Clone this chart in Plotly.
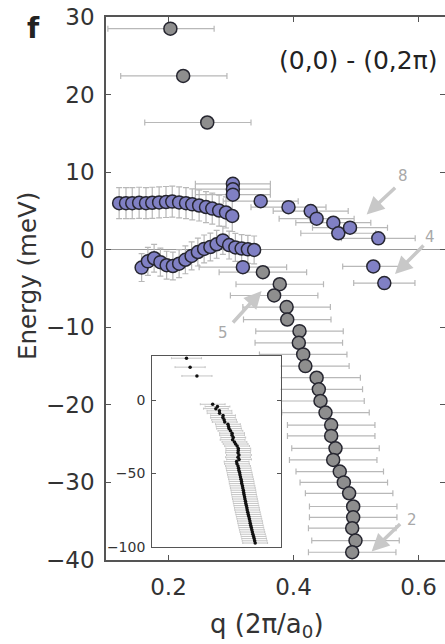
import plotly.graph_objects as go

# ---------------- data ----------------
# purple upper branch (vertical error bars)
q_up = [0.121, 0.132, 0.142, 0.153, 0.164, 0.174, 0.185, 0.196, 0.206,
        0.217, 0.228, 0.238, 0.249, 0.260, 0.270, 0.281, 0.292, 0.302]
e_up = [6.0, 6.0, 6.0, 6.05, 6.0, 6.05, 6.1, 6.15, 6.2,
        6.1, 6.0, 5.85, 5.7, 5.5, 5.3, 5.05, 4.8, 4.35]
de_up = [2.0] * len(q_up)

# purple lower branch (vertical error bars)
q_lo = [0.157, 0.167, 0.177, 0.187, 0.197, 0.207, 0.217, 0.227, 0.237, 0.247,
        0.257, 0.267, 0.277, 0.287, 0.297, 0.307, 0.317, 0.327, 0.337]
e_lo = [-2.3, -1.5, -1.1, -1.6, -2.0, -2.1, -1.8, -1.3, -0.8, -0.3,
        0.1, 0.35, 0.7, 1.2, 0.6, 0.3, 0.15, 0.05, -0.03]
de_lo = [1.8] * len(q_lo)

# purple stacked cluster near q~0.30 (horizontal error bars)
q_cl = [0.303, 0.303, 0.303]
e_cl = [8.5, 7.8, 7.1]
dq_cl = [0.06, 0.06, 0.06]

# purple scattered points (horizontal error bars)
q_pr = [0.319, 0.3475, 0.392, 0.4275, 0.437, 0.4637, 0.4717, 0.4904, 0.5357, 0.5277, 0.5453]
e_pr = [-2.25, 6.26, 5.49, 4.98, 4.0, 3.48, 2.12, 2.84, 1.47, -2.16, -4.3]
dq_pr = [0.07, 0.06, 0.06, 0.06, 0.06, 0.06, 0.06, 0.06, 0.059, 0.049, 0.049]

# gray high-energy points (asymmetric horizontal error bars)
q_top = [0.203, 0.2235, 0.262]
e_top = [28.5, 22.4, 16.4]
dqm_top = [0.10, 0.10, 0.10]
dqp_top = [0.07, 0.07, 0.07]

# gray dispersing branch
q_gray = [0.351, 0.378, 0.369, 0.389, 0.390, 0.4096, 0.4085, 0.4155, 0.419, 0.437,
          0.4405, 0.4432, 0.4512, 0.4603, 0.4603, 0.4672, 0.4635, 0.474, 0.4805, 0.489,
          0.4955, 0.4955, 0.4939, 0.4992, 0.4939]
e_gray = [-2.9, -4.45, -5.9, -7.4, -9.0, -10.5, -12.0, -13.5, -15.0, -16.5,
          -18.0, -19.5, -21.0, -22.6, -24.0, -25.6, -27.1, -28.6, -30.0, -31.4,
          -33.1, -34.5, -35.9, -37.5, -39.0]
dq_gray = [0.07] * len(q_gray)

# inset: deeper part of the gray branch
q_deep = [0.500, 0.486, 0.488, 0.494, 0.497, 0.499, 0.503, 0.505, 0.508, 0.511,
          0.514, 0.515, 0.519, 0.521, 0.524, 0.526, 0.528, 0.531, 0.533, 0.536,
          0.538, 0.541, 0.544, 0.546, 0.549, 0.552, 0.555, 0.558, 0.561, 0.563,
          0.566, 0.569, 0.572, 0.575, 0.578, 0.582, 0.585, 0.588, 0.591]
e_deep = [-40.5, -42.0, -43.5, -45.0, -46.5, -48.0, -49.5, -51.0, -52.5, -54.0,
          -55.5, -57.0, -58.5, -60.0, -61.5, -63.0, -64.5, -66.0, -67.5, -69.0,
          -70.5, -72.0, -73.5, -75.0, -76.5, -78.0, -79.5, -81.0, -82.5, -84.0,
          -85.5, -87.0, -88.5, -90.0, -91.5, -93.0, -94.5, -96.0, -97.5]

# arrows: tip (q, E), labels
arrow_q = [0.517, 0.5624, 0.349, 0.525]
arrow_e = [4.55, -3.14, -5.32, -38.9]
arrow_lbl = ["8", "4", "5", "2"]

x_ticks = [0.2, 0.4, 0.6]
y_ticks = [-40, -30, -20, -10, 0, 10, 20, 30]
inset_y_ticks = [0, -50, -100]

# ---------------- styles ----------------
FONT = "DejaVu Sans"
PURPLE = "#8080c4"
GRAY = "#8e8e8e"
EDGE = "#262630"
BAR = "#b8b8b8"
MS = 13

fig = go.Figure()

def bars_only(x, y, **kw):
    fig.add_trace(go.Scatter(x=x, y=y, mode="markers",
                             marker=dict(size=MS, color="rgba(0,0,0,0)", line=dict(width=0)),
                             hoverinfo="skip", showlegend=False, **kw))

# error bars first (beneath every marker)
bars_only(q_up, e_up, error_y=dict(type="data", array=de_up, color=BAR, thickness=1.2, width=3))
bars_only(q_lo, e_lo, error_y=dict(type="data", array=de_lo, color=BAR, thickness=1.2, width=3))
bars_only(q_cl, e_cl, error_x=dict(type="data", array=dq_cl, color=BAR, thickness=1.2, width=3))
bars_only(q_pr, e_pr, error_x=dict(type="data", array=dq_pr, color=BAR, thickness=1.2, width=3))
bars_only(q_top, e_top, error_x=dict(type="data", array=dqp_top, arrayminus=dqm_top,
                                     color=BAR, thickness=1.2, width=3))
bars_only(q_gray, e_gray, error_x=dict(type="data", array=dq_gray, color=BAR, thickness=1.2, width=3))

def pts(x, y, col):
    fig.add_trace(go.Scatter(x=x, y=y, mode="markers",
                             marker=dict(size=MS, color=col, line=dict(color=EDGE, width=1.5)),
                             showlegend=False))

pts(q_up, e_up, PURPLE)
pts(q_lo, e_lo, PURPLE)
pts(q_cl, e_cl, PURPLE)
pts(q_pr, e_pr, PURPLE)
pts(q_top, e_top, GRAY)
pts(q_gray, e_gray, GRAY)

# inset
ins_q = q_top + q_gray + q_deep
ins_e = e_top + e_gray + e_deep
ins_dq = [0.085] * len(q_top) + [0.07] * (len(q_gray) + len(q_deep))
fig.add_trace(go.Scatter(x=ins_q, y=ins_e, xaxis="x2", yaxis="y2", mode="markers",
                         marker=dict(size=3.5, color="#111111"),
                         error_x=dict(type="data", array=ins_dq, color="#c4c4c4", thickness=1, width=1),
                         showlegend=False))

axis_common = dict(showgrid=False, showline=True, linecolor="#555555", linewidth=1.5,
                   ticks="inside", tickcolor="#555555", mirror="ticks", automargin=False,
                   tickfont=dict(family=FONT, size=23, color="#333333"))

fig.update_layout(
    width=445, height=644,
    margin=dict(l=106, r=0, t=17, b=84, autoexpand=False),
    paper_bgcolor="white", plot_bgcolor="white",
    xaxis=dict(domain=[0, 1], range=[0.1, 0.6424], tickvals=x_ticks, ticklen=5,
               zeroline=False, ticklabelstandoff=6, **axis_common),
    yaxis=dict(domain=[0, 1], range=[-40, 30], tickvals=y_ticks, ticklen=5,
               zeroline=True, zerolinecolor="#9a9a9a", zerolinewidth=1,
               ticklabelstandoff=5, **axis_common),
    xaxis2=dict(domain=[0.1366, 0.5153], anchor="y2", range=[0.01, 0.735],
                showticklabels=False, ticks="", showgrid=False, zeroline=False,
                showline=True, mirror=True, linecolor="#555555", linewidth=1.3),
    yaxis2=dict(domain=[0.0245, 0.3757], anchor="x2", range=[-100, 30],
                tickvals=inset_y_ticks, ticks="inside", ticklen=4, tickcolor="#555555",
                mirror="ticks", showgrid=False, zeroline=False,
                showline=True, linecolor="#555555", linewidth=1.3,
                tickfont=dict(family=FONT, size=14, color="#333333"), ticklabelstandoff=3),
    showlegend=False,
)

def txt(text, x, y, size, color="#333333", **kw):
    d = dict(text=text, x=x, y=y, xref="paper", yref="paper", showarrow=False,
             xanchor="center", yanchor="middle", font=dict(family=FONT, size=size, color=color))
    d.update(kw)
    return d

ann = []
ann.append(txt("<b>f</b>", -0.2153, 0.9797, 28, "#222222"))
ann.append(txt("(0,0) - (0,2π)", 0.9853, 0.9208, 25, "#222222", xanchor="right"))
ann.append(txt("Energy (meV)", -0.233, 0.523, 24.5, textangle=-90))
ann.append(txt("q (2π/a<sub>0</sub>)", 0.4735, -0.1215, 26))

tails = [(30, -28), (30, -30), (-30, 33), (30, -29)]
lbl_pos = [(0.8752, 0.7072), (0.9558, 0.5954), (0.346, 0.4175), (0.9018, 0.0737)]
for qa, ea, (ax, ay), lab, (lx, ly) in zip(arrow_q, arrow_e, tails, arrow_lbl, lbl_pos):
    ann.append(dict(x=qa, y=ea, xref="x", yref="y", text="", showarrow=True,
                    ax=ax, ay=ay, arrowhead=2, arrowsize=1, arrowwidth=3.5,
                    arrowcolor="#c8c8c8"))
    ann.append(txt(lab, lx, ly, 15, "#a8a8a8"))
fig.update_layout(annotations=ann)

fig.write_html("out.html", config={"displayModeBar": False},
               post_script="document.body.style.margin='0px';")
